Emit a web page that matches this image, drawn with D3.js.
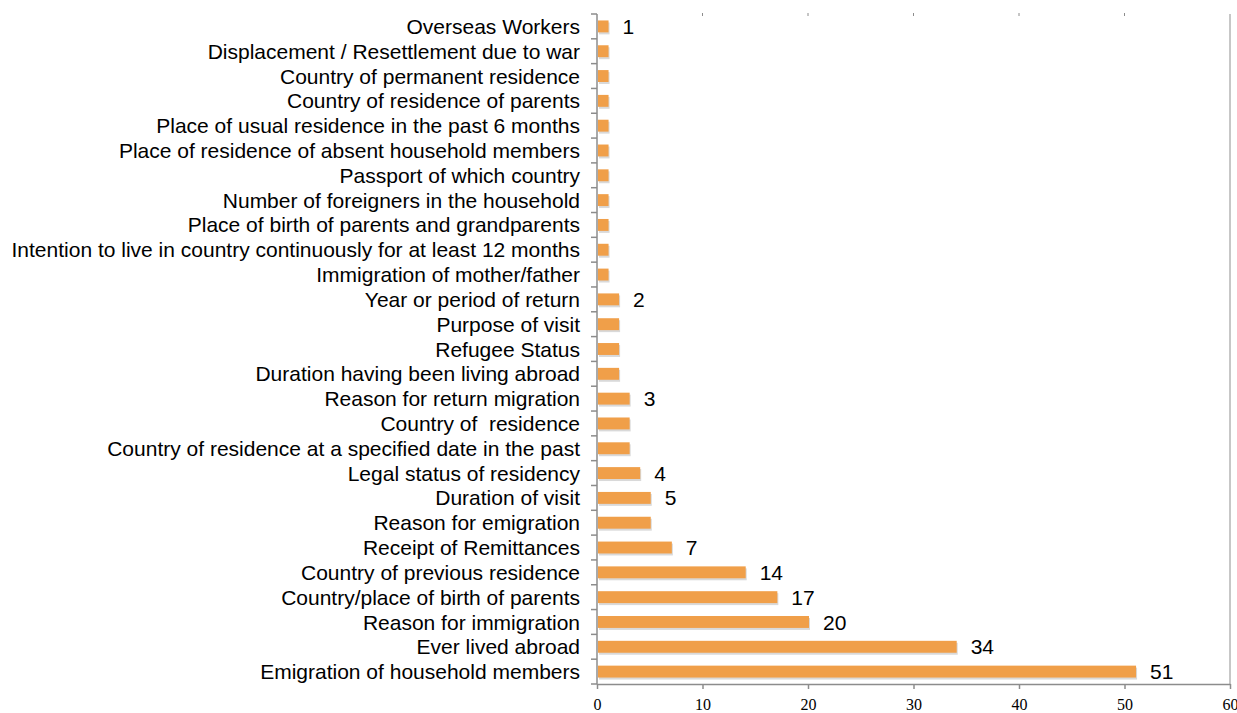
<!DOCTYPE html>
<html>
<head>
<meta charset="utf-8">
<script src="https://cdn.jsdelivr.net/npm/d3@7"></script>
<style>
  body { margin: 0; background: #fff; }
  svg text { white-space: pre; }
</style>
</head>
<body>
<div id="chart"></div>
<script>
// categories, top to bottom
var categories = [
  "Overseas Workers",
  "Displacement / Resettlement due to war",
  "Country of permanent residence",
  "Country of residence of parents",
  "Place of usual residence in the past 6 months",
  "Place of residence of absent household members",
  "Passport of which country",
  "Number of foreigners in the household",
  "Place of birth of parents and grandparents",
  "Intention to live in country continuously for at least 12 months",
  "Immigration of mother/father",
  "Year or period of return",
  "Purpose of visit",
  "Refugee Status",
  "Duration having been living abroad",
  "Reason for return migration",
  "Country of  residence",
  "Country of residence at a specified date in the past",
  "Legal status of residency",
  "Duration of visit",
  "Reason for emigration",
  "Receipt of Remittances",
  "Country of previous residence",
  "Country/place of birth of parents",
  "Reason for immigration",
  "Ever lived abroad",
  "Emigration of household members"
];
var values = [1, 1, 1, 1, 1, 1, 1, 1, 1, 1, 1, 2, 2, 2, 2, 3, 3, 3, 4, 5, 5, 7, 14, 17, 20, 34, 51];
// bars that carry a value label
var labelled = [
  "Overseas Workers", "Year or period of return", "Reason for return migration",
  "Legal status of residency", "Duration of visit", "Receipt of Remittances",
  "Country of previous residence", "Country/place of birth of parents",
  "Reason for immigration", "Ever lived abroad", "Emigration of household members"
];
var xTicks = [0, 10, 20, 30, 40, 50, 60];

var width = 1237, height = 713;
var margin = { top: 14, left: 597, right: 7, bottom: 29 };

var rows = categories.map(function(c, i) { return { name: c, value: values[i] }; });

var svg = d3.select("#chart").append("svg")
    .attr("width", width)
    .attr("height", height);

var x = d3.scaleLinear().domain([0, 60]).range([margin.left, width - margin.right]);
var y = d3.scaleBand().domain(categories)
    .range([margin.top, height - margin.bottom])
    .paddingInner(0.52).paddingOuter(0.26);
var step = y.step();
var axisColor = "#8c8c8c";
var sans = "Liberation Sans, Arial, sans-serif";

// right border
svg.append("line")
    .attr("x1", x(60)).attr("x2", x(60))
    .attr("y1", margin.top).attr("y2", height - margin.bottom)
    .attr("stroke", "#b5b5b5").attr("stroke-width", 1.5);

// small top tick marks
svg.selectAll(".ttick").data(xTicks.slice(1, -1)).enter().append("line")
    .attr("x1", function(d) { return x(d); }).attr("x2", function(d) { return x(d); })
    .attr("y1", margin.top - 1).attr("y2", margin.top + 2)
    .attr("stroke", axisColor);

// bar shadows
svg.selectAll(".shadow").data(rows).enter().append("rect")
    .attr("x", x(0) + 2)
    .attr("y", function(d) { return y(d.name) + 2; })
    .attr("width", function(d) { return x(d.value) - x(0); })
    .attr("height", y.bandwidth())
    .attr("fill", "#d9d9d9");

// bars
svg.selectAll(".bar").data(rows).enter().append("rect")
    .attr("x", x(0) + 1)
    .attr("y", function(d) { return y(d.name); })
    .attr("width", function(d) { return x(d.value) - x(0); })
    .attr("height", y.bandwidth())
    .attr("fill", "#f09f49");

// value labels
svg.selectAll(".val")
    .data(rows.filter(function(d) { return labelled.indexOf(d.name) >= 0; }))
    .enter().append("text")
    .attr("x", function(d) { return x(d.value) + 15; })
    .attr("y", function(d) { return y(d.name) + y.bandwidth() / 2; })
    .attr("dy", "0.36em")
    .attr("font-family", sans)
    .attr("font-size", 21)
    .attr("fill", "#000")
    .text(function(d) { return d.value; });

// left axis: ticks at band boundaries
var bounds = d3.range(categories.length + 1).map(function(i) { return margin.top + i * step; });
svg.append("line")
    .attr("x1", x(0)).attr("x2", x(0))
    .attr("y1", margin.top).attr("y2", height - margin.bottom)
    .attr("stroke", axisColor).attr("stroke-width", 1.5);
svg.selectAll(".ltick").data(bounds).enter().append("line")
    .attr("x1", x(0) - 6).attr("x2", x(0))
    .attr("y1", function(d) { return d; }).attr("y2", function(d) { return d; })
    .attr("stroke", axisColor).attr("stroke-width", 1.5);

// category labels
svg.selectAll(".cat").data(categories).enter().append("text")
    .attr("x", 580)
    .attr("y", function(d) { return y(d) + y.bandwidth() / 2; })
    .attr("dy", "0.36em")
    .attr("text-anchor", "end")
    .attr("font-family", sans)
    .attr("font-size", 21)
    .attr("fill", "#000")
    .text(function(d) { return d; });

// bottom axis
var xAxis = svg.append("g")
    .attr("transform", "translate(0," + (height - margin.bottom) + ")")
    .call(d3.axisBottom(x).tickValues(xTicks).tickSize(5).tickPadding(10).tickSizeOuter(0));
xAxis.select(".domain").attr("stroke", axisColor).attr("stroke-width", 1.5);
xAxis.selectAll(".tick line").attr("stroke", axisColor).attr("stroke-width", 1.5);
xAxis.selectAll("text")
    .attr("font-family", "Liberation Serif, Times New Roman, serif")
    .attr("font-size", 16)
    .attr("fill", "#000");
</script>
</body>
</html>
